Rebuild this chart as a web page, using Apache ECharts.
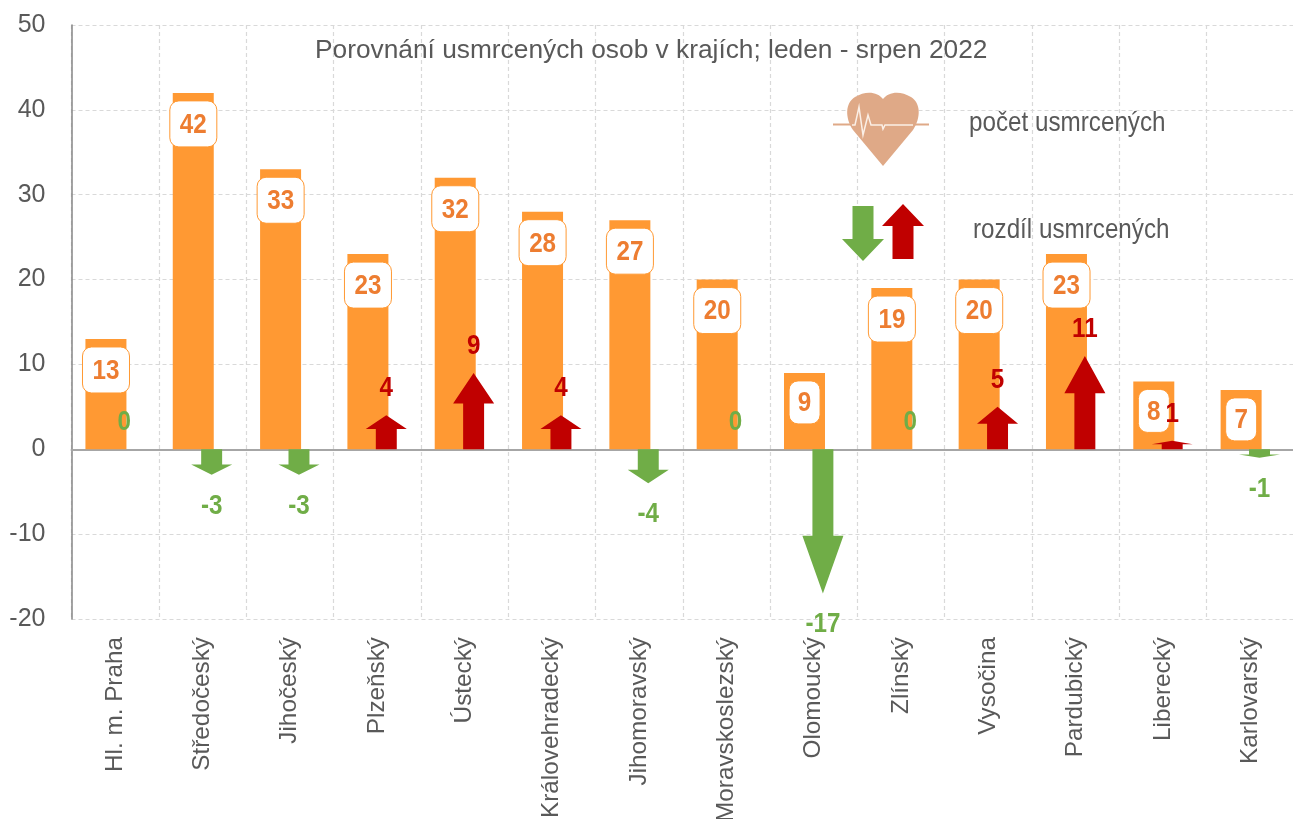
<!DOCTYPE html>
<html><head><meta charset="utf-8">
<style>html,body{margin:0;padding:0;background:#fff}#c{width:1293px;height:819px}</style>
<script src="https://cdn.jsdelivr.net/npm/echarts@6/dist/echarts.min.js"></script>
</head><body><div id="c"></div>
<script>
const categories = ['Hl. m. Praha','Středočeský','Jihočeský','Plzeňský','Ústecký','Královehradecký','Jihomoravský','Moravskoslezský','Olomoucký','Zlínský','Vysočina','Pardubický','Liberecký','Karlovarský'];
const killed = [13,42,33,23,32,28,27,20,9,19,20,23,8,7];
const difference = [0,-3,-3,4,9,4,-4,0,-17,0,5,11,1,-1];
const titleText = 'Porovnání usmrcených osob v krajích; leden - srpen 2022';
const legendKilled = 'počet usmrcených';
const legendDiff = 'rozdíl usmrcených';

const FONT = '"Liberation Sans",sans-serif';
const GREY = '#595959', RED = '#C00000', GREEN = '#70AD47', ORANGE = '#FF9933', LABEL = '#ED7D31', TAN = '#DFA987';
const GRID_LINE = {show:true, lineStyle:{color:'#D9D9D9', type:[4,3], width:1.2}};
const NARROW = 0.85;
const OFFSET = 0.105;

function arrow(x, base, tip, half, shaft) {
  const neck = tip + (base - tip) * 0.4;
  return [[x-shaft,base],[x-shaft,neck],[x-half,neck],[x,tip],[x+half,neck],[x+shaft,neck],[x+shaft,base]];
}
function renderArrow(params, api) {
  const i = api.value(0), v = api.value(1);
  const base = api.coord([i,0]), tip = api.coord([i,v]);
  const band = api.size([1,0])[0];
  const x = base[0] + band*OFFSET;
  const shift = v >= 0 ? -27 : 31;
  const kids = [];
  if (v !== 0) kids.push({type:'polygon', shape:{points:arrow(x, base[1], tip[1], band*0.235, band*0.12)}, style:{fill:v>0?RED:GREEN}});
  kids.push({type:'text', x:x, y:tip[1]+shift, scaleX:NARROW, style:{text:String(v), align:'center', verticalAlign:'middle', fill:v>0?RED:GREEN, font:'bold 28.5px '+FONT}});
  return {type:'group', children:kids};
}
function renderBox(params, api) {
  const i = api.value(0), v = api.value(1);
  const top = api.coord([i,v]);
  const band = api.size([1,0])[0];
  const cx = top[0] - band*OFFSET;
  const w = v >= 10 ? 47 : 31, h = v >= 10 ? 46 : 43;
  const y = top[1] + 8;
  return {type:'group', children:[
    {type:'rect', shape:{x:cx-w/2, y:y, width:w, height:h, r:9}, style:{fill:'#fff', stroke:ORANGE, lineWidth:1}},
    {type:'text', x:cx, y:y+h/2+1, scaleX:NARROW, style:{text:String(v), align:'center', verticalAlign:'middle', fill:LABEL, font:'bold 28.5px '+FONT}}
  ]};
}
function legendArrow(x, base, tip, fill) {
  return {type:'polygon', shape:{points:arrow(x, base, tip, 21, 10.5)}, style:{fill:fill}, z:10};
}

echarts.graphic.registerShape('heart', echarts.graphic.extendPath('M883 166 L853 130 C845 118 845 103 855 97 C866 90 878 92 883 99 C888 92 900 90 911 97 C921 103 921 118 913 130 Z', {}));

const chart = echarts.init(document.getElementById('c'), null, {renderer:'canvas'});
chart.setOption({
  animation:false,
  backgroundColor:'#fff',
  textStyle:{fontFamily:FONT},
  grid:{left:71.5, right:-1, top:25, bottom:200, containLabel:false, outerBoundsMode:'none'},
  title:{text:titleText, left:315, top:38, padding:0, textStyle:{fontFamily:FONT, fontSize:26.3, fontWeight:'normal', color:GREY}},
  xAxis:[
    {type:'category', data:categories, position:'bottom',
     axisLine:{show:false, onZero:false}, axisTick:{show:false},
     axisLabel:{rotate:90, margin:18, interval:0, fontSize:24.3, color:GREY, fontFamily:FONT},
     splitLine:GRID_LINE},
    {type:'category', data:categories, position:'top',
     axisLine:{show:true, onZero:true, lineStyle:{color:'#A6A6A6', width:2}}, axisTick:{show:false}, axisLabel:{show:false}}
  ],
  yAxis:{type:'value', min:-20, max:50, interval:10,
    axisLine:{show:true, lineStyle:{color:'#868686', width:1.5}}, axisTick:{show:false},
    axisLabel:{margin:26, fontSize:25, color:GREY, fontFamily:FONT, padding:[4,0,0,0]},
    splitLine:GRID_LINE},
  series:[
    {name:legendKilled, type:'bar', data:killed, barWidth:41, barGap:'-55%', itemStyle:{color:ORANGE}, z:2},
    {name:legendDiff+' (sloupec)', type:'bar', data:difference, barWidth:41, itemStyle:{opacity:0}, z:1, silent:true},
    {name:legendKilled+' (popisky)', type:'custom', data:killed.map((v,i)=>[i,v]), renderItem:renderBox, encode:{x:0,y:1}, z:3, clip:false},
    {name:legendDiff, type:'custom', data:difference.map((v,i)=>[i,v]), renderItem:renderArrow, encode:{x:0,y:1}, z:5, clip:false}
  ],
  graphic:[
    {type:'heart', z:10, shape:{}, style:{fill:TAN}},
    {type:'polyline', z:11, shape:{points:[[833,124.5],[852,124.5]]}, style:{stroke:TAN, lineWidth:2, fill:null}},
    {type:'polyline', z:11, shape:{points:[[913,124.5],[929,124.5]]}, style:{stroke:TAN, lineWidth:2, fill:null}},
    {type:'polyline', z:11, shape:{points:[[852,125],[855,125],[859,107],[863,135],[868,115],[871,125],[882,125],[883,129],[885,125],[913,125]]}, style:{stroke:'#FBEFE6', lineWidth:1.5, fill:null}},
    legendArrow(863, 206, 261, GREEN),
    legendArrow(903, 259, 204, RED),
    {type:'text', x:969, y:123, z:10, scaleX:0.865, style:{text:legendKilled, fill:GREY, font:'28px '+FONT, verticalAlign:'middle'}},
    {type:'text', x:973, y:230, z:10, scaleX:0.865, style:{text:legendDiff, fill:GREY, font:'28px '+FONT, verticalAlign:'middle'}}
  ]
});
</script></body></html>
